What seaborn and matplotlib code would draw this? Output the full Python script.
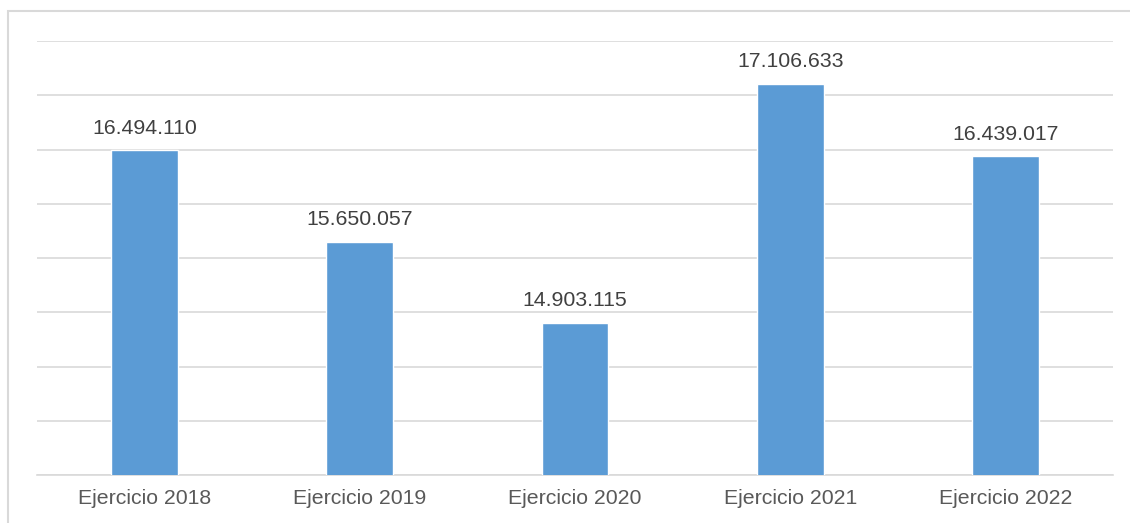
import matplotlib
matplotlib.use("Agg")
import matplotlib.pyplot as plt
from matplotlib.patches import Rectangle
import seaborn as sns
import pandas as pd

categories = ["Ejercicio 2018", "Ejercicio 2019", "Ejercicio 2020", "Ejercicio 2021", "Ejercicio 2022"]
values = [16494110, 15650057, 14903115, 17106633, 16439017]
labels = ["16.494.110", "15.650.057", "14.903.115", "17.106.633", "16.439.017"]

df = pd.DataFrame({"cat": categories, "val": values})

sns.set_style("white")
plt.rcParams["font.family"] = ["Liberation Sans", "DejaVu Sans"]

fig = plt.figure(figsize=(11.3, 5.23), dpi=100)
ax = fig.add_axes([37 / 1130, 1 - 475 / 523, (1113 - 37) / 1130, (475 - 41) / 523])

sns.barplot(data=df, x="cat", y="val", color="#5B9BD5", saturation=1, width=0.31, ax=ax, zorder=3)

ax.set_ylim(13500000, 17500000)
ax.set_yticks(range(13500000, 17500001, 500000))
ax.yaxis.grid(True, color="#d9d9d9", linewidth=1.2, zorder=0)
ax.set_axisbelow(True)
ax.set_yticklabels([])
ax.tick_params(axis="y", length=0)
ax.tick_params(axis="x", length=0, labelsize=15.3, labelcolor="#595959", pad=10)
ax.set_xlabel("")
ax.set_ylabel("")
ax.set_xlim(-0.5, 4.5)
for s in ["top", "right", "left"]:
    ax.spines[s].set_visible(False)
ax.spines["bottom"].set_color("#d9d9d9")
ax.spines["bottom"].set_linewidth(1.2)

for i, (v, t) in enumerate(zip(values, labels)):
    ax.annotate(t, (i, v), xytext=(0, 9), textcoords="offset points",
                ha="center", va="bottom", fontsize=15.3, color="#404040")

fig.add_artist(Rectangle((8 / 1130, -0.1), 2, 1 - 11 / 523 + 0.1, transform=fig.transFigure,
                         fill=False, edgecolor="#d9d9d9", linewidth=1.5))

fig.savefig("out.png", dpi=100)
